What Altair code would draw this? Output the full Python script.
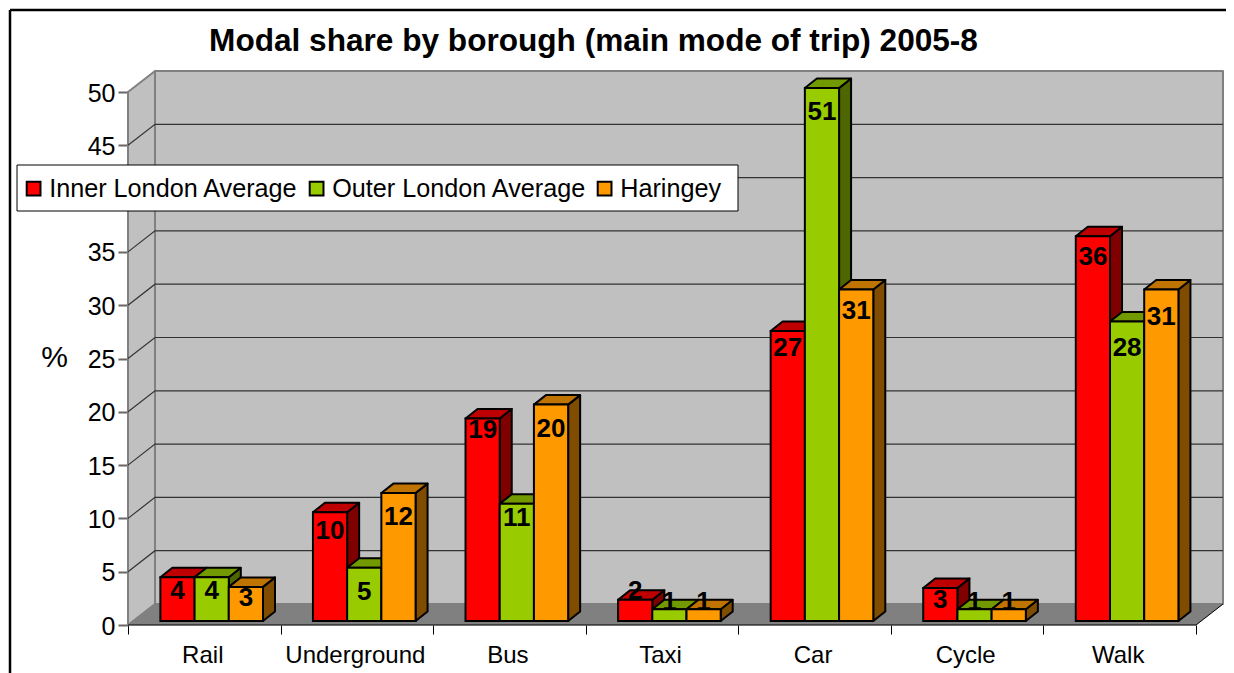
import altair as alt
import pandas as pd

categories = ["Rail", "Underground", "Bus", "Taxi", "Car", "Cycle", "Walk"]
inner = [4.1, 10.2, 19, 2, 27.2, 3.1, 36.1]
outer = [4.1, 5, 11, 1.1, 51, 1.1, 28.1]
haringey = [3.2, 12, 20.3, 1.1, 31.1, 1.1, 31.1]
series_names = ["Inner London Average", "Outer London Average", "Haringey"]
y_ticks = list(range(0, 55, 5))

# how far each value label sits below the top of its bar, in axis units
inner_drop = [1.3, 1.8, 1.1, -0.8, 1.6, 1.1, 2.0]
outer_drop = [1.3, 2.25, 1.3, -0.65, 2.25, -0.65, 2.45]
haringey_drop = [1.0, 2.25, 2.25, -0.65, 2.0, -0.65, 2.6]

FONT = "Liberation Sans"
W, H = 1095, 554
DX, DY = 0.177, 1.97            # depth of the box
N = len(categories)
YMAX = 50
xs = alt.Scale(domain=[0, N + DX], range=[0, W], nice=False, zero=False)
ys = alt.Scale(domain=[0, YMAX + DY], range=[H, 0], nice=False, zero=False)
BW, SHIFT = 0.2242, 0.0485      # bar width and shift into the box
BASE = 0.375                    # bar foot above axis zero
BDX, BDY = 0.0787, 0.89         # bar depth
front_cols = ["#ff0000", "#99cc00", "#ff9900"]
top_cols = ["#bf0000", "#739900", "#bf7300"]
side_cols = ["#800000", "#4d6600", "#804d00"]

label_expr = "{" + ",".join(f"'{i + 0.5}':'{c}'" for i, c in enumerate(categories)) + "}[datum.value] || ''"
x_vals = [i / 2 for i in range(2 * N + 1)]

x_axis = alt.Axis(
    values=x_vals, labelExpr=label_expr, domain=False, grid=False, title=None,
    tickSize=9, tickColor="black", tickWidth=1,
    tickOpacity=alt.expr("datum.value % 1 ? 0 : 1"),
    labelFont=FONT, labelFontSize=24, labelColor="black", labelPadding=9, labelOverlap=False,
    labelOffset=-2, labelBaseline="top", labelFlush=False)
y_axis = alt.Axis(
    values=y_ticks, domain=False, grid=False, tickSize=10, tickColor="#666666", tickWidth=2, title="%",
    labelExpr="datum.value == 40 ? '' : datum.label",
    labelFont=FONT, labelFontSize=25, labelColor="black", labelPadding=3, labelOffset=1,
    titleFont=FONT, titleFontSize=30, titleFontWeight="normal", titleAngle=0, titleColor="black",
    titleX=-74, titleY=286, titleAlign="center", titleBaseline="middle")


def X(f):
    return alt.X(f, type="quantitative", scale=xs, axis=x_axis)


def Y(f):
    return alt.Y(f, type="quantitative", scale=ys, axis=y_axis)


def poly_layer(rows, fill, stroke="black", width=2):
    return alt.Chart(pd.DataFrame(rows)).mark_line(
        interpolate="linear-closed", stroke=stroke, strokeWidth=width, strokeJoin="round"
    ).encode(x=X("x"), y=Y("y"), detail="k:N", order="i:Q", fill=alt.value(fill))


fronts = []
side_rows = [[], [], []]
top_rows = [[], [], []]
for s, (vals, drops) in enumerate(zip([inner, outer, haringey], [inner_drop, outer_drop, haringey_drop])):
    for c, (v, drop) in enumerate(zip(vals, drops)):
        h = min(v, YMAX) + BASE
        l = c + 0.5 + SHIFT + (s - 1.5) * BW
        r = l + BW
        fronts.append(dict(series=series_names[s], l=l, r=r, b=BASE, t=h, mid=(l + r) / 2,
                           ly=h - drop, label=str(round(v))))
        side_rows[s] += [dict(k=c, i=i, x=px, y=py) for i, (px, py) in enumerate(
            [(r, BASE), (r, h), (r + BDX, h + BDY), (r + BDX, BASE + BDY)])]
        top_rows[s] += [dict(k=c, i=i, x=px, y=py) for i, (px, py) in enumerate(
            [(l, h), (r, h), (r + BDX, h + BDY), (l + BDX, h + BDY)])]
fronts = pd.DataFrame(fronts)


def shape(points):
    return [dict(k=0, i=i, x=px, y=py) for i, (px, py) in enumerate(points)]


wall_side = shape([(0, 0), (0, YMAX), (DX, YMAX + DY), (DX, DY)])
wall_back = shape([(DX, DY), (DX, YMAX + DY), (N + DX, YMAX + DY), (N + DX, DY)])
floor = shape([(0, 0), (N, 0), (N + DX, DY), (DX, DY)])
grid = pd.DataFrame([
    dict(k=t, i=i, x=px, y=t + dy)
    for t in y_ticks[1:-1]
    for i, (px, dy) in enumerate([(0, 0), (DX, DY), (N + DX, DY)])
])
front_edge = pd.DataFrame(dict(i=[0, 1, 2], x=[0, N, N + DX], y=[0, 0, DY]))

front_bars = alt.Chart(fronts).mark_rect(stroke="black", strokeWidth=2).encode(
    x=X("l"), x2=alt.X2("r"), y=Y("b"), y2=alt.Y2("t"),
    color=alt.Color("series:N", sort=series_names,
                    scale=alt.Scale(domain=series_names, range=front_cols),
                    legend=alt.Legend(
                        title=None, orient="none", direction="horizontal", columns=3,
                        legendX=-116, legendY=96,
                        padding=9, symbolType="square", symbolSize=190, symbolStrokeColor="black",
                        symbolStrokeWidth=2, symbolOpacity=1, labelFont=FONT, labelFontSize=25.2,
                        labelColor="black", labelLimit=400, labelOffset=3, columnPadding=5,
                        symbolOffset=0)),
)
labels = alt.Chart(fronts).mark_text(
    font=FONT, fontSize=26, fontWeight="bold", color="black", baseline="middle", align="center"
).encode(x=X("mid"), y=Y("ly"), text="label:N")

frame_left = alt.Chart(pd.DataFrame(dict(a=[0]))).mark_rule(color="black", strokeWidth=2.5).encode(
    x=alt.value(-118), y=alt.value(-61), y2=alt.value(H + 60))
frame_top = alt.Chart(pd.DataFrame(dict(a=[0]))).mark_rule(color="black", strokeWidth=2.5).encode(
    x=alt.value(-118), x2=alt.value(W + 20), y=alt.value(-61))
legend_box = alt.Chart(pd.DataFrame(dict(a=[0]))).mark_rect(fill="white", stroke="black", strokeWidth=1).encode(
    x=alt.value(-111), x2=alt.value(610), y=alt.value(94), y2=alt.value(140))

chart = alt.layer(
    frame_left, frame_top,
    poly_layer(wall_side, "#c0c0c0", "#808080"),
    poly_layer(wall_back, "#c0c0c0", "#808080"),
    poly_layer(floor, "#808080", "#808080", 0.5),
    alt.Chart(grid).mark_line(color="#333333", strokeWidth=1.2).encode(x=X("x"), y=Y("y"), detail="k:N", order="i:Q"),
    alt.Chart(front_edge).mark_line(color="black", strokeWidth=1).encode(x=X("x"), y=Y("y"), order="i:Q"),
    *[poly_layer(side_rows[s], side_cols[s]) for s in range(3)],
    *[poly_layer(top_rows[s], top_cols[s]) for s in range(3)],
    front_bars, labels, legend_box,
).properties(
    width=W, height=H,
    title=alt.TitleParams(
        "Modal share by borough (main mode of trip) 2005-8", font=FONT, fontSize=31.6, fontWeight="bold",
        color="black", anchor="middle", dx=-82, offset=0, dy=49),
    padding={"left": 120, "top": 63, "right": 3, "bottom": 48},
    autosize=alt.AutoSizeParams(type="none"),
    background="white",
).configure_view(stroke=None)

chart.save("out.html", embed_options={"renderer": "svg", "actions": False})
